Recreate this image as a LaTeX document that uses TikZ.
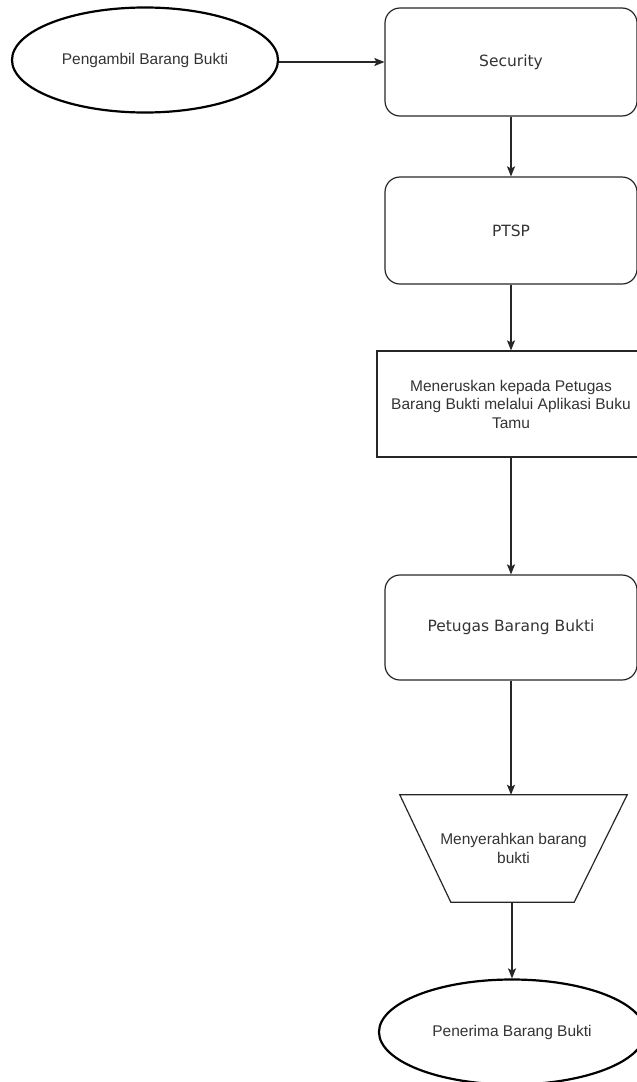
\documentclass[tikz,border=0pt]{standalone}
\usepackage{fontspec}
\setmainfont{Liberation Sans}
\newfontfamily\dejavu{DejaVu Sans}
\usetikzlibrary{shapes.geometric,arrows.meta,calc}
\begin{document}
\begin{tikzpicture}[x=1pt,y=-1pt,
  every node/.style={text=black!80, font=\fontsize{15.5}{18.5}\selectfont},
  term/.style={ellipse, draw=black, line width=2.2pt, minimum width=266pt, minimum height=105pt, inner sep=0pt},
  rbox/.style={rectangle, rounded corners=15pt, draw=black!85, line width=1.2pt, minimum width=252pt, minimum height=107pt, font=\dejavu\fontsize{15.5}{18.5}\selectfont},
  pbox/.style={rectangle, draw=black!85, line width=1.2pt, minimum width=268pt, minimum height=106pt, align=center},
  trapbox/.style={align=center, minimum width=227pt, minimum height=107pt, inner sep=0pt},
  flow/.style={draw=black!85, line width=1.2pt, -{Stealth[length=10pt,width=8pt,inset=2pt]}}
]
\clip (0,0) rectangle (637,1082);
\useasboundingbox (0,0) rectangle (637,1082);

\node[term] (e1) at (145,60) {Pengambil Barang Bukti};
\node[rbox, minimum height=108pt] (sec) at (511,62) {Security};
\node[rbox] (ptsp) at (511,230.5) {PTSP};
\node[pbox] (fwd) at (511,404) {Meneruskan kepada Petugas\\Barang Bukti melalui Aplikasi Buku\\Tamu};
\node[rbox, minimum height=105pt] (pet) at (511,627.5) {Petugas Barang Bukti};
\node[trapbox] (trap) at (513.5,848.5) {Menyerahkan barang\\bukti};
\draw[line width=1.2pt, draw=black!85] (trap.north west) -- (trap.north east) -- ($(trap.south east)+(-53,0)$) -- ($(trap.south west)+(51,0)$) -- cycle;
\node[term] (e2) at (512,1032) {Penerima Barang Bukti};

\draw[flow] (e1.east |- sec.west) -- (sec.west);
\draw[flow] (sec) -- (ptsp);
\draw[flow] (ptsp) -- (fwd);
\draw[flow] (fwd) -- (pet);
\draw[flow] (pet.south) -- (pet.south |- trap.north);
\draw[flow] (trap.south -| e2.north) -- (e2.north);
\end{tikzpicture}
\end{document}
